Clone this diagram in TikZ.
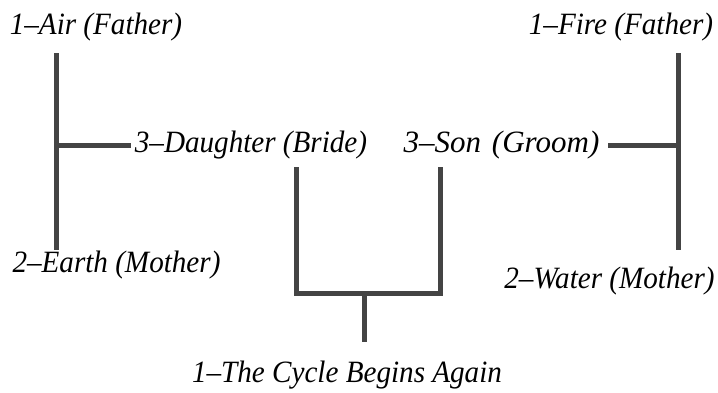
\documentclass[tikz,border=0pt]{standalone}
\usepackage{fontspec}
\setmainfont{Liberation Serif}
\newfontfamily\lblfont[FakeStretch=0.94]{Liberation Serif}
\newfontfamily\sonfont[FakeStretch=1.0,WordSpace=1.4]{Liberation Serif}
\begin{document}
\begin{tikzpicture}[x=1pt,y=1pt,
  lbl/.style={inner sep=0pt, anchor=base, font=\lblfont\fontsize{31}{36}\selectfont\itshape, text=black},
  bar/.style={draw=barcol, line width=5pt, line join=miter}]
\definecolor{barcol}{HTML}{444444}
\useasboundingbox (0,0) rectangle (718,-392);
% labels
\node[lbl] (air) at (96,-34) {1–Air (Father)};
\node[lbl] (earth) at (116.5,-272) {2–Earth (Mother)};
\node[lbl] (daughter) at (251,-152) {3–Daughter (Bride)};
\node[lbl, font=\sonfont\fontsize{31}{36}\selectfont\itshape] (son) at (501.5,-152) {3–Son (Groom)};
\node[lbl] (fire) at (621,-34) {1–Fire (Father)};
\node[lbl] (water) at (609.5,-288) {2–Water (Mother)};
\node[lbl] (cycle) at (347,-382) {1–The Cycle Begins Again};
% junction coordinates
\coordinate (lt) at (56,-53);
\coordinate (lb) at (56,-250);
\coordinate (lj) at (56,-145);
\coordinate (rt) at (678,-53);
\coordinate (rb) at (678,-250);
\coordinate (rj) at (678,-145);
\coordinate (bl) at (296,-167);
\coordinate (br) at (440,-167);
\coordinate (bm) at (364,-293);
\coordinate (bs) at (364,-342);
% connectors
\draw[bar] (lt) -- (lb);
\draw[bar, shorten >=4pt] (lj) -- (lj -| daughter.west);
\draw[bar] (rt) -- (rb);
\draw[bar, shorten >=8pt] (rj) -- (rj -| son.east);
\draw[bar] (bl) |- (bm) -| (br);
\draw[bar] (bm) -- (bs);
\end{tikzpicture}
\end{document}
